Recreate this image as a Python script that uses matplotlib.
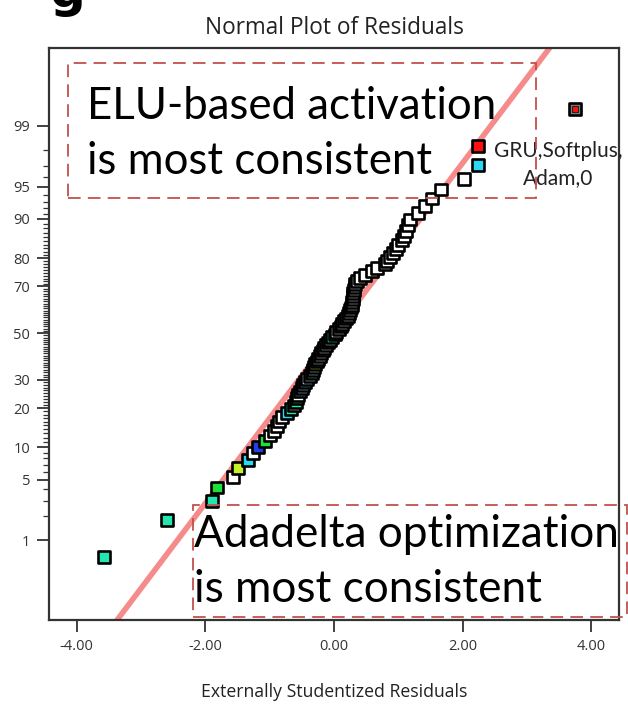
import numpy as np
import matplotlib
matplotlib.use('Agg')
import matplotlib.pyplot as plt
from matplotlib.patches import Rectangle
from statistics import NormalDist

# sorted externally studentized residuals
residuals = [-3.58, -2.60, -1.90, -1.82, -1.57, -1.49, -1.34, -1.26, -1.18, -1.07,
             -1.00, -0.93, -0.89, -0.86, -0.81, -0.73, -0.67, -0.62, -0.59, -0.58,
             -0.56, -0.53, -0.50, -0.48, -0.45, -0.42, -0.37, -0.34, -0.33, -0.31,
             -0.30, -0.26, -0.25, -0.22, -0.20, -0.17, -0.16, -0.12, -0.09, -0.06,
             -0.03, 0.02, 0.03, 0.08, 0.11, 0.12, 0.16, 0.19, 0.22, 0.23,
             0.25, 0.26, 0.28, 0.28, 0.29, 0.30, 0.30, 0.31, 0.32, 0.33,
             0.36, 0.40, 0.48, 0.59, 0.67, 0.79, 0.82, 0.87, 0.92, 0.96,
             1.00, 1.06, 1.09, 1.12, 1.15, 1.18, 1.31, 1.42, 1.52, 1.66,
             2.02, 2.24, 2.24, 3.75]

# colour code of each point, same order as residuals
point_codes = ['t', 't', 't', 'g', 'w', 'y', 'c', 'w', 'b', 'g',
               'w', 'w', 'w', 'w', 'w', 'c', 't', 'w', 't', 'g',
               'w', 'c', 'w', 'w', 'c', 'w', 'w', 't', 'w', 'w',
               'y', 'w', 'w', 'w', 'w', 'w', 'w', 'w', 't', 'w',
               't', 'c', 'w', 'w', 'w', 'w', 'w', 'w', 'w', 'w',
               'w', 'w', 'w', 'w', 'w', 'w', 'w', 'w', 'w', 'w',
               'w', 'w', 'w', 'w', 'w', 'w', 'w', 'w', 'w', 'w',
               'w', 'w', 'w', 'w', 'w', 'w', 'w', 'w', 'w', 'w',
               'w', 'c', 'r', 'd']
palette = {'w': 'white', 't': '#22e6b0', 'g': '#1ee03c', 'y': '#c8f028',
           'c': '#2ad8f2', 'b': '#2040e0', 'r': '#ff1010', 'd': '#808080'}

y_major = [1, 5, 10, 20, 30, 50, 70, 80, 90, 95, 99]
x_ticks = [-4.0, -2.0, 0.0, 2.0, 4.0]
line_slope = 0.955  # normal quantile per residual unit

nd = NormalDist()


def to_z(p):
    p = np.clip(np.asarray(p, dtype=float) / 100.0, 1e-9, 1 - 1e-9)
    return np.vectorize(nd.inv_cdf, otypes=[float])(p)


def to_p(z):
    return np.vectorize(nd.cdf, otypes=[float])(np.asarray(z, dtype=float)) * 100.0


n = len(residuals)
probs = [(i - 0.5) / n * 100 for i in range(1, n + 1)]
colors = [palette[c] for c in point_codes]

W, H = 628, 707
fig = plt.figure(figsize=(W / 100, H / 100), dpi=100)


def fx(px):
    return px / W


def fy(py):
    return 1 - py / H


ax = fig.add_axes([fx(49), fy(620), fx(619) - fx(49), fy(48) - fy(620)])
ax.set_yscale('function', functions=(to_z, to_p))

# fitted normal line
xl = np.array([-4.6, 4.6])
ax.plot(xl, to_p(xl * line_slope), color='#f47e7e', lw=4, alpha=0.9,
        solid_capstyle='butt', zorder=1)

ax.scatter(residuals, probs, marker='s', s=72, c=colors,
           edgecolors='black', linewidths=1.9, zorder=3)
# red core of the outlying point
ax.scatter(residuals[-1:], probs[-1:], marker='s', s=14, c='#ff1010',
           edgecolors='#222222', linewidths=0.8, zorder=4)

ax.set_xlim(-4.43, 4.43)
ax.set_ylim(to_p(-3.22), to_p(3.20))

ax.set_xticks(x_ticks)
ax.set_xticklabels([f'{v:.2f}' for v in x_ticks], family='Open Sans')
ax.set_yticks(y_major)
ax.set_yticklabels([str(v) for v in y_major], family='Open Sans')
ax.set_yticks([v for v in range(2, 99) if v not in y_major], minor=True)
ax.tick_params(axis='both', which='major', length=8.5, width=1.3,
               colors='#333333', labelsize=10.5, labelcolor='#333333', pad=5)
ax.tick_params(axis='y', which='minor', length=4.5, width=0.9, colors='#333333')
ax.tick_params(axis='x', which='minor', length=0)
for s in ax.spines.values():
    s.set_color('#333333')
    s.set_linewidth(1.6)

ax.set_title('Normal Plot of Residuals', fontsize=16.3, color='#222222', pad=10,
             family='Open Sans')
ax.set_xlabel('Externally Studentized Residuals', fontsize=12.7, color='#222222',
              labelpad=21, family='Open Sans')

ax.text(residuals[-2] + 1.24, probs[-2] + 0.25, 'GRU,Softplus,\nAdam,0', fontsize=15,
        ha='center', va='top', linespacing=1.5, family='Lato', color='#222222',
        transform=ax.transData, clip_on=False, zorder=5)

# annotation boxes
box_col = '#c0504d'
for (l, t, r, b) in [(68, 63, 536, 198), (193, 505, 627, 617)]:
    fig.patches.append(Rectangle((fx(l), fy(b)), fx(r) - fx(l), fy(t) - fy(b),
                                 transform=fig.transFigure, fill=False,
                                 edgecolor=box_col, lw=1.3,
                                 linestyle=(0, (7, 4)), zorder=6))

fig.text(fx(87), fy(86), 'ELU-based activation\nis most consistent', fontsize=31.5,
         family='Lato', va='top', ha='left', linespacing=1.42)
fig.text(fx(194), fy(514), 'Adadelta optimization\nis most consistent', fontsize=31.8,
         family='Lato', va='top', ha='left', linespacing=1.42)

# clipped heading letter at the top edge
fig.text(fx(50), fy(7), 'g', fontsize=36, fontweight='bold', va='baseline', ha='left')

fig.savefig('out.png', dpi=100)
